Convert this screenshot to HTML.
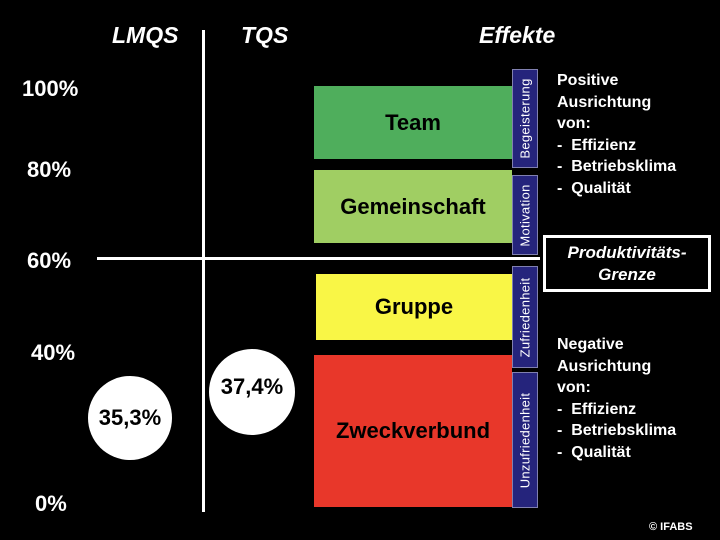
<!DOCTYPE html>
<html><head><meta charset="utf-8"><style>
body{margin:0;width:720px;height:540px;background:#000;position:relative;overflow:hidden;font-family:"Liberation Sans",sans-serif;font-weight:bold;color:#fff}
.a{position:absolute}
.h{font-style:italic;font-size:23px;top:22px}
.y{font-size:22px;left:22px}
.box{position:absolute;display:flex;align-items:center;justify-content:center;color:#000;font-size:22px}
.bl{position:absolute;left:512px;width:26px;background:#25247c;border:1px solid #8080b0;box-sizing:border-box;display:flex;align-items:center;justify-content:center}
.bl span{transform:rotate(-90deg);white-space:nowrap;font-size:13px;font-weight:normal;letter-spacing:0.3px}
.c{position:absolute;background:#fff;border-radius:50%;color:#000;font-size:22px;display:flex;align-items:center;justify-content:center}
.t{font-size:16px;line-height:21.5px;left:557px}
</style></head><body>
<div class="a h" style="left:112px">LMQS</div>
<div class="a h" style="left:241px">TQS</div>
<div class="a h" style="left:479px">Effekte</div>
<div class="a y" style="top:76px">100%</div>
<div class="a y" style="top:157px;left:27px">80%</div>
<div class="a y" style="top:248px;left:27px">60%</div>
<div class="a y" style="top:340px;left:31px">40%</div>
<div class="a y" style="top:491px;left:35px">0%</div>
<div class="a" style="left:202px;top:30px;width:3px;height:482px;background:#fff"></div>
<div class="a" style="left:97px;top:257px;width:443px;height:3px;background:#fff"></div>
<div class="box" style="left:314px;top:86px;width:198px;height:73px;background:#4fae5c">Team</div>
<div class="box" style="left:314px;top:170px;width:198px;height:73px;background:#a0ce63">Gemeinschaft</div>
<div class="box" style="left:316px;top:274px;width:196px;height:66px;background:#f9f646">Gruppe</div>
<div class="box" style="left:314px;top:355px;width:198px;height:152px;background:#e8372a">Zweckverbund</div>
<div class="bl" style="top:69px;height:99px"><span>Begeisterung</span></div>
<div class="bl" style="top:175px;height:80px"><span>Motivation</span></div>
<div class="bl" style="top:266px;height:102px"><span>Zufriedenheit</span></div>
<div class="bl" style="top:372px;height:136px"><span>Unzufriedenheit</span></div>
<div class="a" style="left:543px;top:235px;width:168px;height:57px;box-sizing:border-box;border:3px solid #fff;font-style:italic;font-size:17px;text-align:center;line-height:22px;padding-top:4px">Produktivitäts-<br>Grenze</div>
<div class="a t" style="top:70px">Positive<br>Ausrichtung<br>von:<br>-&nbsp; Effizienz<br>-&nbsp; Betriebsklima<br>-&nbsp; Qualität</div>
<div class="a t" style="top:334px">Negative<br>Ausrichtung<br>von:<br>-&nbsp; Effizienz<br>-&nbsp; Betriebsklima<br>-&nbsp; Qualität</div>
<div class="c" style="left:88px;top:376px;width:84px;height:84px">35,3%</div>
<div class="c" style="left:209px;top:349px;width:86px;height:86px;padding-bottom:10px;box-sizing:border-box">37,4%</div>
<div class="a" style="left:649px;top:521px;font-size:11px">© IFABS</div>
</body></html>
